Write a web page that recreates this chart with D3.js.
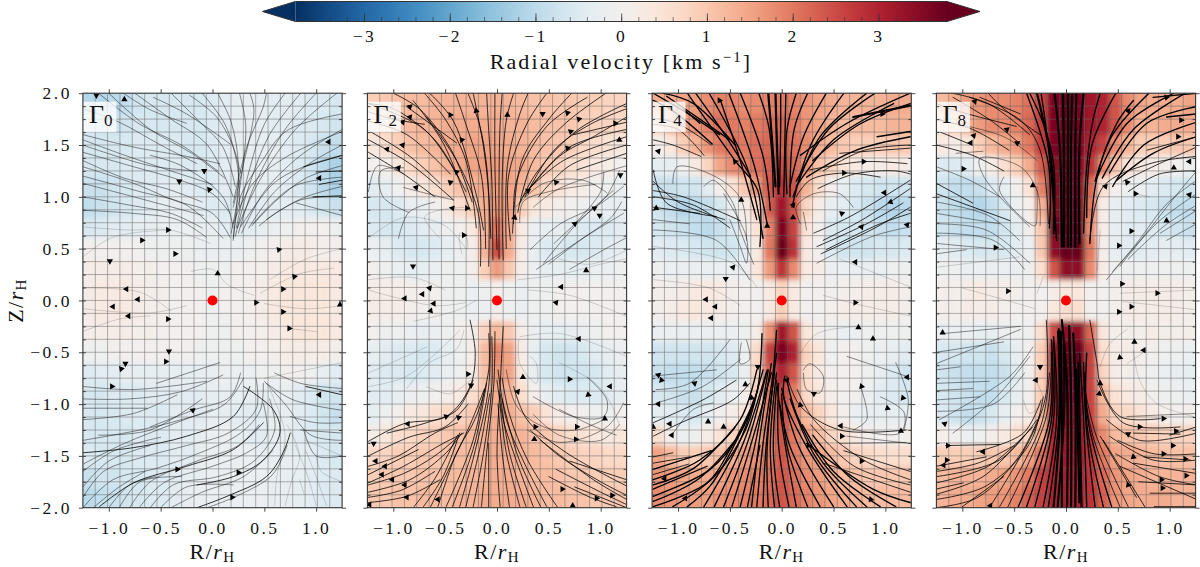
<!DOCTYPE html>
<html>
<head>
<meta charset="utf-8">
<script src="https://cdnjs.cloudflare.com/ajax/libs/d3/7.8.5/d3.min.js"></script>
<style>
  html, body { margin: 0; padding: 0; background: #fff; }
  svg { display: block; }
  text { font-family: "Liberation Serif", serif; fill: #111; }
</style>
</head>
<body>
<div id="chart"></div>
<script>
// radial velocity in tenths of km/s. rows run from Z = 2 down to Z = -2, columns from R = -1.25 to 1.25
const field0 = [
  [-11,-11,-10,-9,-7,-6,-6,-6,-6,-6,-5,-4,-3,-3,-3,-4,-4,-4,-5,-5,-6],
  [-7,-8,-8,-7,-6,-6,-6,-6,-6,-6,-5,-4,-3,-3,-3,-4,-4,-5,-5,-6,-7],
  [-6,-6,-6,-6,-5,-5,-5,-5,-6,-6,-5,-4,-3,-3,-3,-3,-4,-5,-6,-8,-9],
  [-6,-6,-6,-5,-5,-5,-5,-5,-5,-5,-5,-4,-3,-3,-3,-3,-4,-5,-7,-10,-12],
  [-8,-8,-7,-6,-5,-5,-4,-4,-4,-5,-5,-4,-4,-3,-3,-3,-4,-5,-7,-10,-12],
  [-9,-8,-7,-6,-5,-4,-3,-3,-3,-4,-5,-5,-4,-4,-4,-4,-4,-4,-5,-7,-8],
  [-6,-5,-4,-4,-3,-3,-2,-2,-2,-3,-3,-4,-4,-4,-3,-2,-1,0,0,0,-1],
  [0,0,0,0,0,-1,-1,-1,-1,-2,-2,-2,-2,-1,0,1,2,2,2,1,1],
  [2,2,2,2,1,1,0,0,0,-1,-1,-1,0,0,1,2,3,3,3,3,3],
  [2,3,3,3,2,1,1,0,0,0,-1,0,0,1,2,3,4,4,4,4,3],
  [2,3,3,3,2,1,1,0,0,0,-1,0,0,1,2,3,4,4,4,4,3],
  [1,2,2,2,1,1,0,0,0,0,-1,-1,0,0,1,2,3,4,4,4,3],
  [-1,-1,0,0,0,0,0,0,0,-1,-1,-1,-1,0,0,1,2,2,2,2,1],
  [-5,-4,-4,-3,-3,-3,-3,-3,-3,-3,-3,-2,-2,-2,-1,-1,0,0,-1,-3,-4],
  [-6,-6,-5,-5,-5,-4,-4,-4,-4,-4,-3,-3,-3,-3,-3,-3,-3,-4,-5,-7,-7],
  [-6,-6,-6,-5,-5,-5,-5,-4,-4,-4,-3,-3,-4,-4,-4,-3,-3,-4,-5,-7,-8],
  [-6,-6,-6,-6,-5,-5,-5,-4,-4,-3,-2,-2,-3,-4,-4,-3,-3,-4,-5,-6,-6],
  [-5,-6,-6,-6,-5,-5,-5,-4,-4,-3,-2,-2,-2,-2,-3,-3,-3,-3,-4,-5,-6],
  [-8,-7,-7,-6,-6,-5,-5,-4,-3,-3,-2,-2,-2,-2,-2,-3,-3,-3,-4,-5,-5],
  [-10,-9,-8,-7,-6,-5,-5,-4,-3,-2,-2,-2,-2,-2,-2,-3,-3,-3,-4,-5,-5]
]
const field2 = [
  [9,10,11,12,12,13,13,13,13,13,13,13,12,11,11,10,10,9,9,8,8],
  [6,8,10,12,13,13,14,14,14,14,14,13,13,12,11,11,10,9,8,8,7],
  [4,6,9,11,12,13,14,14,15,15,15,14,13,12,11,10,9,7,6,5,4],
  [0,1,4,7,9,11,13,14,15,16,16,15,14,12,10,8,6,5,3,2,0],
  [-4,-3,-1,2,4,6,9,11,13,15,16,15,13,11,7,5,3,2,0,-1,-2],
  [-6,-6,-5,-3,-2,0,3,6,9,14,17,15,9,4,3,1,0,-1,-2,-3,-3],
  [-5,-6,-6,-5,-4,-3,-1,0,3,13,21,14,3,-2,-3,-3,-4,-5,-5,-5,-4],
  [-2,-3,-5,-6,-6,-5,-3,-2,1,13,25,14,2,-3,-5,-5,-6,-6,-5,-4,-3],
  [0,-1,-2,-3,-3,-2,-1,-1,1,9,16,10,1,-2,-3,-3,-3,-3,-2,-2,-1],
  [2,2,2,1,0,0,-1,-1,-2,-1,1,-1,-2,-1,-1,0,0,0,0,0,0],
  [2,2,2,1,0,0,-1,-1,-2,-2,1,-1,-2,-1,-1,0,0,0,0,0,0],
  [0,-1,-1,-2,-3,-2,-1,0,1,8,12,10,1,-2,-3,-3,-3,-2,-1,0,0],
  [-3,-4,-5,-5,-6,-5,-3,-1,1,12,18,15,2,-3,-6,-7,-7,-6,-4,-3,-2],
  [-4,-5,-5,-6,-5,-4,-2,-1,2,11,16,15,3,-3,-6,-7,-7,-7,-6,-4,-3],
  [-4,-4,-3,-2,-1,0,1,3,6,10,14,13,6,1,-3,-4,-5,-5,-5,-4,-3],
  [-3,-1,1,3,4,6,7,8,10,12,14,14,11,9,5,2,1,0,-1,-1,0],
  [2,4,6,7,8,9,10,11,12,13,14,14,13,11,10,8,6,5,4,3,4],
  [7,8,9,9,10,10,11,12,12,13,14,14,13,12,11,10,9,8,8,7,7],
  [9,10,10,10,11,11,12,12,13,13,14,14,13,12,12,11,10,10,9,9,9],
  [10,10,11,11,12,12,12,13,13,14,14,14,14,13,12,12,11,11,10,10,10]
]
const field4 = [
  [14,14,15,16,18,19,19,18,18,19,20,19,17,15,14,13,13,13,13,14,14],
  [7,12,15,17,19,21,20,19,20,21,22,20,17,15,13,12,12,12,12,13,13],
  [1,4,9,13,17,20,21,20,21,22,23,21,18,14,12,10,9,9,9,10,10],
  [-3,-3,-1,3,8,15,18,19,21,23,25,22,17,11,8,5,3,2,2,3,2],
  [-8,-8,-7,-7,-4,1,5,10,17,24,28,24,13,6,1,-3,-5,-6,-7,-7,-7],
  [-7,-9,-11,-10,-9,-6,-2,2,8,23,32,24,8,2,-3,-4,-6,-8,-10,-11,-10],
  [-6,-7,-8,-9,-10,-8,-6,0,5,19,36,26,5,1,-5,-6,-6,-7,-8,-9,-8],
  [-4,-5,-5,-6,-7,-7,-7,-4,3,20,40,28,3,0,-5,-7,-7,-7,-6,-6,-5],
  [-1,-2,-2,-2,-2,-2,-2,-2,4,16,28,18,3,2,-2,-2,-2,-2,-2,-1,-1],
  [1,1,2,3,3,3,1,0,0,3,8,3,0,0,0,1,1,2,2,2,1],
  [1,2,3,4,3,2,1,0,0,3,9,3,0,0,1,2,2,2,2,2,1],
  [-2,-2,-2,-2,-2,-2,-2,-1,2,17,32,24,4,1,-1,-2,-2,-1,-1,-1,-1],
  [-7,-7,-7,-7,-7,-6,-5,-1,7,26,36,30,8,4,-1,0,0,-1,-2,-3,-4],
  [-8,-9,-9,-9,-8,-7,-6,-2,8,23,30,24,6,3,0,0,0,-1,-3,-5,-7],
  [-6,-7,-8,-8,-6,-4,-2,0,9,20,26,20,7,4,1,0,0,-2,-4,-5,-6],
  [-3,-4,-5,-6,-3,0,2,5,12,20,25,20,12,8,4,1,-2,-3,-3,-3,-3],
  [6,1,-2,-1,2,5,8,11,15,20,24,20,15,12,8,6,3,1,0,0,1],
  [15,12,9,9,10,11,13,16,18,20,24,20,17,15,12,10,8,7,6,6,6],
  [17,16,15,14,14,15,17,18,19,21,24,21,18,16,14,12,11,10,10,10,10],
  [18,17,16,16,16,17,18,19,20,22,24,22,19,17,15,14,13,12,12,12,12]
]
const field8 = [
  [12,14,16,17,18,18,19,21,26,36,38,36,32,30,24,18,15,14,14,14,15],
  [6,9,13,16,18,18,19,22,27,36,38,36,32,30,24,18,13,13,14,14,14],
  [3,2,4,9,12,14,16,20,27,36,38,36,30,26,18,13,9,9,9,10,10],
  [-5,-5,-4,-1,2,6,9,14,23,35,38,36,28,18,10,5,3,2,1,0,-1],
  [-7,-9,-9,-8,-5,-3,0,5,19,35,38,36,22,6,1,-1,-2,-4,-5,-6,-7],
  [-8,-9,-10,-11,-9,-6,-2,1,13,35,38,38,20,2,-3,-4,-5,-6,-8,-9,-9],
  [-7,-8,-9,-9,-9,-7,-4,0,10,38,38,38,18,2,-3,-4,-4,-5,-6,-7,-8],
  [-3,-4,-5,-6,-6,-6,-4,-2,10,34,38,38,20,1,-3,-4,-4,-4,-3,-3,-4],
  [-1,-1,-2,-2,-2,-2,-2,-1,6,24,34,34,18,2,-1,-1,-1,-1,-1,-1,-1],
  [1,1,2,3,2,2,1,0,0,2,4,4,0,0,1,2,2,2,2,2,1],
  [1,1,2,2,2,1,0,0,0,4,6,6,0,0,1,2,2,2,2,2,1],
  [-2,-2,-2,-3,-3,-2,-1,-1,6,25,34,34,22,4,1,1,1,2,1,1,1],
  [-6,-6,-7,-7,-8,-6,-3,0,9,32,38,38,26,6,2,2,1,0,-1,-1,-2],
  [-7,-8,-9,-9,-9,-8,-4,0,9,30,38,38,26,8,2,1,0,-1,-2,-3,-3],
  [-6,-7,-8,-9,-9,-6,-3,0,9,30,36,36,26,12,5,3,2,0,-1,-1,-2],
  [-5,-7,-9,-8,-6,-3,0,2,12,30,34,34,26,14,8,7,5,3,1,0,1],
  [1,0,-2,-1,1,3,6,8,14,30,33,33,28,18,12,11,10,9,8,8,8],
  [9,9,9,9,10,10,12,15,21,30,32,32,28,20,15,14,13,12,11,11,11],
  [12,13,13,13,14,15,17,20,26,30,31,31,28,22,17,15,14,13,13,13,13],
  [13,14,14,15,16,17,19,23,26,30,31,30,28,23,17,15,14,14,14,13,13]
]

// streamlines: [speed class, R, Z, R, Z, ...], R and Z in hundredths of r_H
const lines0 = [
  [2,-86,200,-60,184,-25,171],[2,-57,196,-25,180,17,151],[2,-22,198,4,177,20,148,27,123],
  [2,-125,160,-76,148,-25,139,7,132],[2,-125,143,-76,129,-31,116,0,103,17,84],[2,-125,129,-76,113,-38,97,0,84,17,61],
  [2,-125,113,-76,100,-9,82],[2,-125,87,-76,84,-34,78,-6,61],[1,-125,71,-82,68,-41,68,-2,55],[1,-125,42,-96,61,-44,68],
  [2,-125,150,-60,130,-15,125],[2,-110,200,-70,170,-30,150,5,125],[2,-60,140,-30,130,10,100,20,70],
  [2,-125,185,-90,172,-50,150,-15,132],[2,-100,200,-60,165,-20,142,12,118],[2,-125,120,-70,105,-25,92,10,60],[2,-125,100,-80,92,-40,84,-10,70],
  [2,-125,155,-90,142,-40,125,0,112],[2,-40,200,-15,175,10,148,22,110],[2,-10,200,12,170,24,130,26,90],[2,5,200,18,172,25,130,20,60],
  [2,-125,135,-85,118,-45,108,-10,95],[2,-75,200,-40,175,-5,150,20,100],
  [2,20,58,27,100,46,132,72,164,125,180],[2,20,74,39,113,72,139,125,163],[2,27,71,59,113,88,129,125,140],
  [2,39,74,78,110,125,119],[2,52,78,85,97,125,100],[2,36,200,40,184,30,132,20,90],[2,52,200,49,187,33,148,20,94],
  [2,70,200,50,170,34,120,23,70],[2,100,200,70,165,40,110,25,65],[3,88,129,125,140],[3,103,112,125,116],[3,97,100,125,101],[2,81,94,125,82],
  [2,26,200,32,170,28,120,18,65],[2,85,200,55,160,35,110,22,62],[2,120,200,80,165,45,115,24,70],[2,125,165,85,140,50,105,28,65],
  [2,125,150,95,133,60,105,35,70],[2,125,130,90,118,60,95,38,72],[2,125,110,90,100,62,85,45,72],[3,125,125,100,124],
  [1,46,7,85,26,117,31],[1,55,20,90,40,125,50],[1,50,-3,90,-8,125,-5],[1,-125,12,-70,8,-40,-10],[1,-125,-8,-60,-12,-25,-5],
  [1,-20,28,0,30,15,15,40,5],[1,-125,-30,-90,-18,-60,-15],[1,72,-27,100,-30],
  [3,-125,-147,-76,-142,-25,-131,20,-112,36,-83],[2,-60,-122,-19,-106,17,-93,27,-70],[2,-125,-115,-76,-109,-34,-91],
  [2,-125,-104,-63,-104],[2,-125,-83,-76,-86,-6,-78],[2,-54,-80,7,-60],[2,-110,-130,-60,-125,-10,-95],
  [2,-125,-200,-96,-173,-54,-162,-12,-147,27,-128,46,-106,49,-80],[3,-109,-199,-76,-176,-25,-160,20,-144,49,-118],
  [2,-70,-199,-47,-176,0,-160,33,-147,52,-131,49,-99],[3,-15,-178,20,-170,49,-154,65,-128,59,-106,30,-83],
  [3,-15,-200,14,-189,52,-170,68,-147,75,-128],[2,-90,-200,-70,-175,-30,-170],[2,-50,-200,-25,-180,20,-178],[2,-125,-180,-100,-155,-60,-140],
  [2,-125,-165,-95,-145,-50,-132],[2,-125,-158,-85,-138,-40,-120,0,-105],[2,-125,-135,-70,-125,-30,-115,12,-100,30,-75],
  [2,-125,-190,-105,-165,-70,-152,-25,-140,15,-128,42,-105,42,-75],[2,-115,-200,-90,-180,-65,-165],[2,-100,-200,-80,-178,-55,-170],
  [2,-80,-200,-60,-175,-15,-155,25,-140,45,-120],[2,-60,-200,-38,-178,5,-170,40,-155,60,-125,55,-95],[2,-40,-200,-10,-185,30,-170,58,-145],
  [2,-5,-200,25,-188,58,-168,72,-140],[2,-125,-95,-80,-95,-30,-88,10,-72],
  [1,84,-173,88,-186],[1,70,-198,76,-175,84,-150,72,-120],[1,100,-198,92,-170,80,-140],[1,60,-198,62,-170,70,-130,55,-85],[1,110,-198,100,-170,90,-145],
  [2,125,-135,95,-130,70,-100,50,-78],[2,125,-150,100,-150,88,-125],[1,125,-175,105,-165,100,-150],[2,125,-85,85,-80,60,-70],
  [2,52,-80,78,-96,125,-106],[3,90,-83,125,-91],[2,75,-112,100,-118,125,-118],[2,85,-125,125,-128],[1,90,-135,125,-150],[1,50,-75,100,-65,125,-60]
]
const lines2 = [
  [3,-8,33,-8,100,-13,148,-23,200],[3,-4,39,-5,116,-8,164,-10,200],[3,0,49,-2,132,-2,200],[3,6,39,5,116,9,174,16,200],
  [3,13,58,11,119,29,171,48,200],[3,16,74,19,116,48,168,87,196],[3,22,94,38,123,77,164,125,190],[3,25,100,60,139,93,158,125,177],
  [3,29,106,64,135,125,158],[3,74,160,125,172],[3,77,126,125,142],[3,33,110,70,148,125,165],[2,18,90,45,113,83,116,106,104],
  [3,-6,60,-10,130,-17,170,-28,200],[3,-11,50,-15,120,-30,170,-40,200],[3,-20,70,-30,135,-50,175,-70,200],[3,-24,95,-44,145,-75,185,-100,200],
  [3,-30,105,-60,155,-100,185,-124,190],[3,2,40,2,120,3,170,5,200],[3,9,50,10,130,22,180,30,200],[3,15,65,24,135,50,175,72,200],
  [3,20,85,35,135,65,170,105,200],[3,27,100,55,145,90,170,125,185],[3,40,100,70,130,125,150],[2,35,90,60,108,125,130],[2,22,75,25,95,50,105,95,112],
  [3,-16,33,-18,84,-39,135,-68,177],[3,-26,87,-52,152,-81,193],[3,-13,68,-21,106,-42,173,-65,200],[3,-42,97,-84,132,-124,155],
  [3,-55,113,-84,139,-124,164],[3,-45,122,-87,160,-124,173],[3,-87,187,-39,152],[3,-38,120,-70,165,-124,190],[2,-90,109,-55,100,-42,97],
  [3,-60,100,-90,122,-124,143],[3,-70,170,-100,175,-124,182],[2,-85,85,-110,100,-112,125,-90,128],[2,-60,95,-85,85,-95,60],
  [2,-124,105,-115,130,-90,122],[1,-32,90,-60,86,-70,80,-55,60],[1,-34,45,-36,65,-30,63,-28,50],[1,-124,60,-90,80,-50,72,-30,50],[1,-124,20,-80,22,-50,10],
  [2,32,49,61,74,96,91,122,110],[2,45,36,77,74,112,106],[2,38,30,86,62,122,84],[2,75,74,100,105,103,124],[1,20,20,60,25,100,35,124,40],
  [2,50,35,80,58,110,80,120,95],[2,55,55,80,78,105,100,118,125],[2,70,30,105,50,124,60],[1,60,40,90,35,124,48],
  [1,-80,-20,-40,-10,-20,0],[1,-124,10,-60,-5,-30,-2],[1,30,10,70,5,124,-15],
  [3,-8,-199,-8,-138],[3,-23,-199,-13,-147,-5,-83,-5,-35],[3,-36,-199,-20,-141,-8,-83,-7,-19],[3,-49,-199,-24,-138,-12,-86],
  [3,-57,-199,-39,-147,-20,-112,-8,-67,-8,-32],[3,-71,-199,-52,-170,-36,-128],[3,3,-199,0,-147,3,-83,6,-25],[3,22,-199,9,-147,3,-102],
  [3,35,-199,16,-147,6,-115,0,-77],[3,48,-199,25,-154,9,-115,1,-67],[3,-124,-176,-90,-160,-52,-138,-32,-128],[3,-124,-185,-84,-173,-49,-147,-34,-128],
  [3,-15,-199,-10,-147,-3,-80,-2,-30],[3,-30,-199,-16,-140,-7,-90],[3,-43,-199,-22,-140,-10,-80],[3,-64,-199,-45,-160,-26,-120,-12,-85],
  [3,-80,-199,-60,-172,-38,-130],[3,12,-199,5,-147,1,-100],[3,28,-199,12,-147,3,-90],[3,42,-199,20,-150,5,-95],[3,58,-199,30,-155,12,-110,5,-75],
  [3,-124,-190,-92,-183,-60,-165],[3,-124,-160,-95,-150,-60,-128,-38,-118],[3,-124,-150,-85,-132,-50,-122,-28,-100],[3,-124,-178,-90,-167,-60,-150,-38,-132],
  [3,-124,-168,-76,-144],[3,-124,-136,-90,-119,-49,-112,-26,-83,-21,-51,-26,-19],[3,-106,-128,-68,-118,-39,-106,-23,-77],[3,-124,-195,-87,-189,-55,-173],
  [1,-124,-83,-87,-73,-36,-29],[1,-124,-70,-68,-45],[1,-87,-85,-65,-60,-39,-47,-32,-29],[1,-68,-83,-45,-90,-26,-77],
  [2,9,-67,19,-102,45,-122,77,-125,103,-115],[3,16,-83,29,-115,67,-147,125,-179],[3,42,-135,93,-173,125,-192],[3,70,-155,125,-173],[3,57,-163,100,-185,125,-197],
  [3,75,-180,125,-200],[3,50,-170,90,-190,115,-199],[3,32,-125,60,-150,100,-175,125,-188],[2,35,-110,60,-130,100,-135,118,-120],[2,60,-105,90,-120,115,-130],
  [2,29,-125,61,-137,106,-122,122,-99],[2,35,-93,74,-112,103,-112,106,-96,87,-74],[1,21,-38,22,-61,38,-80,38,-61,32,-54],[1,22,-35,61,-32,125,-54],[1,60,-60,95,-80,110,-100,118,-120]
]
const lines4 = [
  [5,-6,110,-10,164,-13,200],[5,-3,103,-5,164,-6,200],[4,-11,87,-18,139,-40,200],[4,-14,74,-27,132,-51,200],[4,5,103,5,164,14,200],
  [4,8,110,21,158,43,200],[4,11,100,37,158,82,200],[4,14,110,50,155,108,190],[4,18,140,63,171,124,200],[4,24,119,72,145,124,158],
  [4,-8,100,-12,165,-22,200],[4,-2,110,-1,165,-1,200],[4,2,100,3,150,4,200],[4,8,100,12,165,25,200],[4,10,90,28,150,60,200],[4,-18,60,-34,130,-70,200],
  [4,-30,120,-55,160,-83,200],[4,-60,160,-90,180,-124,200],[4,-45,150,-85,190,-115,200],[4,14,115,45,165,90,200],[4,30,135,75,170,124,190],
  [3,40,125,80,145,124,150],[3,35,108,70,122,110,125,124,122],[3,-124,170,-100,165,-75,140],
  [5,69,177,124,188],[4,92,158,124,163],[3,56,142,124,147],[3,27,126,79,134,121,132],[3,14,100,27,116,60,123,95,119],
  [4,-21,52,-23,106,-45,135,-91,200],[4,-24,78,-40,135,-59,193],[4,-50,155,-111,197],[4,-67,151,-105,183,-124,193],[3,-68,150,-101,171,-124,176],
  [3,-78,139,-105,150,-124,155],[4,-79,171,-95,185],[2,-105,113,-101,129,-63,119,-39,97,-34,58],[2,-75,110,-66,116,-47,94,-40,68,-27,35],
  [2,-56,103,-34,61,-34,36,-40,52,-50,78],[3,-124,126,-111,94,-63,81],[3,-124,106,-95,100,-40,77],[3,-124,90,-79,84],[2,-124,68,-63,58,-31,20],
  [3,-124,115,-100,95,-55,78],[3,-124,100,-85,92,-50,70],[3,40,58,78,78,124,108],[3,38,45,90,70,124,90],
  [2,-124,78,-89,74],[1,-124,52,-47,36,-24,13],[2,18,74,14,90,31,103,56,103,69,90],[3,31,65,66,81,124,116],[3,34,52,82,74,117,94],[3,43,49,95,74,124,84],
  [2,34,36,88,62,124,71],[2,21,85,24,68],[1,56,40,124,13],[1,-124,20,-70,12,-40,-5],[1,40,5,70,-3,124,-15],
  [4,-13,-199,-14,-141,-5,-51],[4,-24,-199,-18,-138,-8,-67,-5,-29],[4,-29,-199,-21,-131,-10,-61],[4,-40,-199,-24,-131,-13,-67],[4,-56,-199,-30,-128,-14,-67],
  [4,-7,-199,-11,-140,-5,-70],[4,-18,-199,-15,-140,-7,-70],[4,-33,-199,-21,-140],[4,-48,-199,-27,-130,-10,-70],[4,-65,-199,-36,-135,-15,-70],
  [4,-105,-199,-65,-170,-35,-125,-22,-80],[4,7,-199,-3,-140,-3,-80],[4,25,-199,5,-140,0,-90],[4,50,-199,16,-140,0,-85],[4,72,-199,32,-150,8,-95],
  [4,95,-199,50,-165,20,-120],[4,110,-199,65,-170,30,-130],[3,124,-178,70,-160,28,-120],[4,-124,-194,-80,-172,-45,-135],[4,-124,-178,-85,-162,-45,-122],
  [3,-124,-168,-90,-158],[3,60,-145,124,-165],
  [4,-75,-199,-40,-135,-18,-67],[4,-91,-199,-69,-179,-40,-128,-24,-89,-19,-32],[4,-2,-199,-8,-147,-5,-83],[4,14,-199,2,-131,-5,-77],[4,37,-199,8,-141,-2,-99],
  [4,63,-199,24,-141,2,-93,3,-73],[4,82,-199,40,-157,14,-109,5,-77],[4,-124,-199,-72,-176,-50,-144,-26,-96],[4,-124,-189,-69,-163,-40,-128,-27,-96],
  [4,-124,-182,-72,-160],[4,-124,-173,-79,-154,-40,-115,-24,-67],[4,-124,-163,-68,-145],[3,-124,-157,-89,-151],[3,-124,-151,-105,-147],
  [3,-124,-131,-95,-117,-47,-96,-31,-80],[3,-124,-118,-76,-96,-44,-77],[2,-121,-99,-76,-83,-40,-57],[2,-121,-86,-89,-80,-50,-38],[2,-124,-73,-63,-67],
  [2,-106,-130,-85,-105,-66,-99],[2,-34,-38,-31,-57,-40,-61,-39,-41],[3,5,-73,18,-102,56,-125,120,-125],[3,15,-86,31,-115,79,-154,124,-173],
  [4,24,-138,88,-182,124,-195],[3,40,-157,124,-185],[2,56,-138,120,-137],[2,21,-67,27,-61,40,-73,37,-89,24,-86,21,-70],[1,18,-51,34,-32,76,-25],
  [2,63,-54,120,-73],[2,59,-122,114,-128,118,-108,95,-93],[2,76,-83,82,-115,69,-125],[2,63,-131,124,-138],[2,110,-60,122,-95,118,-125]
]
const lines8 = [
  [5,-4,52,-6,148,-11,200],[5,2,52,2,148,2,200],[5,9,52,9,148,10,200],[5,-11,68,-14,132,-28,200],[4,-12,65,-12,132,-22,171,-35,200],[4,-9,58,-17,148,-24,200],
  [5,-2,52,-2,148,-3,200],[5,5,52,5,148,6,200],[5,13,55,13,148,17,200],[4,-16,70,-17,132,-38,200],[4,20,80,25,150,48,200],[4,28,115,45,160,80,200],
  [4,35,118,65,165,115,200],[4,45,110,75,150,126,172],[3,55,115,90,132,126,148],[3,60,105,90,122,126,125],
  [3,-25,160,-60,185,-75,200],[3,-35,160,-75,190,-110,200],[3,-55,145,-90,165,-125,175],[3,-125,150,-90,140,-60,125],
  [2,-125,95,-75,82,-45,58],[2,-125,65,-70,58,-40,30],[2,45,28,75,62,105,100,126,125],[2,60,40,95,72,126,92],
  [4,17,65,20,129,26,174,33,200],[4,23,55,30,119,49,171,65,193],[4,30,119,59,171,104,200],[4,42,123,78,171,126,187],[4,49,116,84,142,126,158],[3,78,145,126,158],
  [4,97,177,126,180],[4,84,196,126,200],[3,23,58,36,110,81,132,126,139],[3,-17,74,-25,145,-44,174,-93,196],[3,-44,151,-73,174,-109,196],[3,-44,180,-83,196],
  [3,-48,168,-109,184,-125,190],[3,-93,151,-125,164],[2,-28,135,-60,158,-125,174],[2,-80,144,-106,142],[2,-25,72,-27,103,-44,129,-83,137,-79,119,-35,71],
  [2,-60,119,-64,106,-30,72,-28,85,-28,110],[2,-125,129,-93,116,-64,100],[3,-125,113,-90,94],[3,-125,103,-54,77],[2,-125,84,-64,74],[2,-125,74,-77,68,-35,36],
  [2,-125,55,-60,49],[2,-125,45,-96,49],[1,-125,32,-45,42],[1,-22,23,-28,7],[2,39,20,68,55,97,93,126,116],[2,52,33,87,74,126,103],[2,91,65,126,87],[2,97,58,126,74],
  [1,65,103,81,100],[1,33,68,30,29],[1,52,7,126,10],[1,55,-1,126,-9],[1,-100,12,-50,-2,-30,-8],
  [5,1,-199,1,-83,-4,-19],[5,9,-199,9,-83,7,-32],[5,13,-195,10,-67],[5,-12,-199,-6,-115,-7,-28],[4,-22,-199,-9,-115,-12,-35],[4,-38,-199,-14,-115,-14,-38],
  [5,-4,-199,-4,-115,-5,-30],[5,5,-199,5,-100,3,-25],[5,15,-199,13,-110,12,-60],[5,-8,-199,-2,-110,-2,-40],[4,-17,-199,-7,-115,-8,-30],[4,-30,-199,-12,-115,-12,-40],
  [4,-46,-199,-16,-115,-14,-50],[3,-64,-199,-24,-120,-16,-70],[4,28,-199,19,-115,17,-60],[4,44,-199,22,-120,18,-70],[3,60,-199,29,-130,19,-90],[3,76,-199,36,-135],
  [3,-125,-200,-85,-190,-45,-150,-25,-110],[3,-125,-187,-80,-170,-40,-130],[3,-125,-176,-75,-160,-32,-122],[3,-125,-165,-85,-157,-50,-140],[3,-100,-199,-60,-170],
  [3,70,-175,126,-178],[3,50,-135,85,-148,126,-148],[3,48,-148,90,-170,126,-178],[3,85,-199,126,-199],[3,100,-130,126,-122],[2,-125,-107,-70,-100,-40,-70],[2,-125,-87,-90,-85],[2,-125,-50,-60,-40],
  [3,-56,-199,-19,-112,-14,-51],[3,-72,-197,-32,-128,-19,-89,-19,-19],[4,20,-199,17,-115,13,-51],[4,36,-199,20,-118,20,-51],[3,52,-199,26,-131,17,-83],[3,68,-190,33,-131],
  [3,-125,-192,-77,-179,-35,-138,-22,-93],[3,-125,-182,-99,-176],[3,-125,-170,-64,-154,-28,-115],[3,-125,-160,-77,-151],[3,-116,-140,-64,-139],[3,-86,-146,-41,-128,-24,-96],
  [2,-125,-61,-44,-28],[2,-125,-80,-74,-78],[2,-125,-96,-83,-93],[2,-122,-115,-54,-73,-32,-45],[2,-109,-128,-67,-93,-35,-54],[2,-125,-67,-102,-64],[2,-119,-32,-44,-25],
  [1,-28,-80,-22,-96,-35,-109,-41,-96],[3,23,-19,30,-61,33,-80,52,-112,91,-114],[3,30,-77,55,-118,110,-122],[3,39,-115,71,-135,126,-128],[3,42,-131,84,-154,126,-154],
  [3,65,-157,126,-167],[3,52,-160,126,-192],[3,65,-128,110,-129],[2,59,-112,126,-109],[3,81,-186,126,-186],[3,75,-151,120,-154],[1,33,-64,42,-42,59,-28],
  [1,65,-48,71,-77,87,-99,123,-112],[1,78,-48,59,-61]
]

// arrowheads: [R, Z, heading in degrees], R and Z in hundredths of r_H
const arrows0 = [
  [-112,198,150],[-85,194,-30],[-8,125,150],[-32,115,150],[-3,107,130],[112,153,180],[103,118,180],[-43,68,0],[-68,58,0],[-36,45,0],[64,49,-110],[-99,38,-90],
  [5,26,90],[79,23,10],[68,11,0],[-83,11,180],[-72,1,180],[-96,-6,180],[-81,-15,180],[42,-2,0],[68,-11,0],[123,-4,90],[-43,-18,0],[74,-27,120],[-42,-49,30],
  [-45,-59,0],[-84,-61,30],[-88,-66,10],[-97,-83,0],[103,-91,180],[-19,-106,-80],[-34,-163,0],[25,-166,0],[19,-190,0]
]
const arrows2 = [
  [-84,187,160],[-84,177,170],[-91,172,170],[-45,179,120],[-20,183,100],[10,179,90],[44,180,30],[68,181,15],[79,175,15],[114,171,5],[71,163,20],[118,155,90],
  [-34,155,130],[-91,150,170],[-106,146,170],[68,147,15],[-95,128,170],[-39,124,140],[119,121,-90],[-45,114,140],[-78,109,170],[57,114,10],[30,106,30],[-43,89,170],
  [-29,89,120],[94,89,30],[99,82,30],[17,80,80],[75,74,40],[-32,63,0],[-81,33,150],[86,29,90],[62,13,180],[-65,12,170],[-72,6,180],[-89,2,180],[-61,-3,180],[57,-2,170],
  [-64,-10,190],[-28,-71,0],[-25,-82,30],[-49,-112,20],[-37,-113,20],[-86,-119,180],[-119,-138,-90],[-117,-155,180],[-108,-160,180],[-111,-168,180],[-101,-173,180],
  [-89,-178,180],[-87,-190,180],[-57,-192,60],[-123,-197,180],[25,-74,90],[70,-76,0],[20,-88,170],[88,-91,-20],[109,-83,-60],[104,-114,90],[37,-122,120],[77,-122,0],
  [36,-134,90],[76,-134,0],[63,-182,120],[96,-191,0],[111,-188,0],[73,-198,90],[79,-37,180]
]
const arrows4 = [
  [-60,193,120],[97,180,0],[-119,144,170],[-45,134,130],[79,134,0],[60,123,0],[-39,97,-30],[99,104,60],[11,92,170],[105,95,80],[-121,89,90],[11,80,90],[58,84,140],
  [-14,72,90],[77,71,170],[121,73,170],[-47,32,170],[-54,21,-90],[71,37,180],[-73,1,180],[-64,-6,180],[71,-2,0],[-68,-17,180],[74,-26,90],[88,-37,90],[-23,-64,-90],
  [-119,-72,-80],[-116,-77,-10],[-84,-80,-80],[5,-77,170],[121,-74,-60],[-35,-81,90],[77,-83,-10],[31,-90,-90],[-29,-94,-20],[117,-94,-10],[-119,-100,180],[18,-101,100],
  [102,-104,-20],[-71,-117,90],[-124,-122,90],[-108,-119,-60],[-56,-122,90],[57,-121,-60],[115,-126,90],[-106,-130,-60],[58,-131,0],[26,-140,110],[77,-155,0],
  [-113,-172,180],[-93,-191,180],[86,-192,110]
]
const arrows8 = [
  [-88,192,170],[97,196,10],[60,183,50],[111,174,0],[-57,165,160],[-89,159,170],[108,158,0],[-92,152,180],[-47,152,150],[119,134,180],[104,128,90],[-99,127,120],
  [59,114,10],[38,110,170],[-32,111,-30],[67,103,0],[119,102,170],[97,77,90],[63,67,0],[-68,51,0],[51,53,0],[54,16,0],[-56,9,120],[88,7,0],[63,-6,0],[51,-11,0],
  [-119,-31,90],[66,-40,90],[75,-48,180],[52,-55,100],[-25,-64,-90],[-29,-77,180],[33,-80,-30],[32,-90,-40],[94,-114,0],[-117,-119,-80],[71,-122,0],[60,-129,150],
  [106,-126,0],[-114,-140,0],[103,-140,0],[-80,-146,180],[-115,-154,120],[-118,-159,180],[94,-148,0],[65,-151,-20],[115,-153,0],[116,-169,0],[60,-178,110],[92,-173,0],
  [93,-181,0],[-73,-198,180]
]

const gammaLabels = ['0', '2', '4', '8']
const fields = [field0, field2, field4, field8]
const streamlines = [lines0, lines2, lines4, lines8]
const arrowheads = [arrows0, arrows2, arrows4, arrows8]
const rTicks = [-1, -0.5, 0, 0.5, 1]
const zTicks = [-2, -1.5, -1, -0.5, 0, 0.5, 1, 1.5, 2]
const barTicks = [-3, -2, -1, 0, 1, 2, 3]
const lineWidths = { 1: 0.5, 2: 0.75, 3: 1, 4: 1.35, 5: 2.2 }
const lineAlphas = { 1: 0.32, 2: 0.6, 3: 0.8, 4: 1, 5: 1 }

const width = 1200
const height = 567
const panelW = 259.2
const panelH = 414.5
const panelTop = 93.2
const panelLefts = [82.9, 367.4, 652.1, 936.4]
const edge = '#333'
const fontSize = 17.5
const tickSpacing = '2.5px'

const svg = d3.select('#chart').append('svg').attr('width', width).attr('height', height)
const defs = svg.append('defs')
defs.append('filter').attr('id', 'soft').attr('x', '-5%').attr('y', '-5%').attr('width', '110%').attr('height', '110%')
  .append('feGaussianBlur').attr('stdDeviation', 2.8)

const color = d3.scaleSequential(t => d3.interpolateRdBu(1 - t)).domain([-3.8, 3.8])

// colorbar
const barScale = d3.scaleLinear().domain([-3.8, 3.8]).range([295.4, 947])
const barTop = 1.5
const barBottom = 21.5
const tip = 33
const gradient = defs.append('linearGradient').attr('id', 'bar')
d3.range(0, 1.001, 0.05).forEach(t => {
  gradient.append('stop').attr('offset', t).attr('stop-color', color(-3.8 + 7.6 * t))
})
const bar = svg.append('g')
bar.append('rect')
  .attr('x', barScale(-3.8)).attr('y', barTop)
  .attr('width', barScale(3.8) - barScale(-3.8)).attr('height', barBottom - barTop)
  .attr('fill', 'url(#bar)')
bar.append('path')
  .attr('d', `M${barScale(-3.8)},${barTop}L${barScale(-3.8) - tip},${(barTop + barBottom) / 2}L${barScale(-3.8)},${barBottom}Z`)
  .attr('fill', color(-3.8))
bar.append('path')
  .attr('d', `M${barScale(3.8)},${barTop}L${barScale(3.8) + tip},${(barTop + barBottom) / 2}L${barScale(3.8)},${barBottom}Z`)
  .attr('fill', color(3.8))
bar.append('path')
  .attr('d', `M${barScale(-3.8)},${barTop}L${barScale(-3.8) - tip},${(barTop + barBottom) / 2}L${barScale(-3.8)},${barBottom}L${barScale(3.8)},${barBottom}L${barScale(3.8) + tip},${(barTop + barBottom) / 2}L${barScale(3.8)},${barTop}Z`)
  .attr('fill', 'none').attr('stroke', edge).attr('stroke-width', 1)

const barAxis = bar.append('g').attr('transform', `translate(0,${barBottom})`)
  .call(d3.axisBottom(barScale).tickValues(barTicks).tickSize(-8).tickFormat(d3.format('d')))
barAxis.attr('font-family', null)
barAxis.select('.domain').remove()
barAxis.selectAll('line').attr('stroke', edge).attr('stroke-width', 0.8)
barAxis.selectAll('text').attr('y', 20).attr('dy', 0).attr('font-size', fontSize).attr('fill', '#111')
  .style('letter-spacing', tickSpacing)

const barMinor = bar.append('g').attr('transform', `translate(0,${barBottom})`)
  .call(d3.axisBottom(barScale).tickValues(d3.range(-36, 37, 2).map(d => d / 10)).tickSize(-4.5).tickFormat(''))
barMinor.select('.domain').remove()
barMinor.selectAll('line').attr('stroke', edge).attr('stroke-width', 0.6)

const barTitle = svg.append('text').attr('x', 621).attr('y', 69)
  .attr('text-anchor', 'middle').attr('font-size', 22).style('letter-spacing', '2.1px')
barTitle.append('tspan').text('Radial velocity [km s')
barTitle.append('tspan').attr('dy', -7).attr('font-size', 15).text('−1')
barTitle.append('tspan').attr('dy', 7).text(']')

// one panel per gamma
const x = d3.scaleLinear().domain([-1.25, 1.25]).range([0, panelW])
const y = d3.scaleLinear().domain([-2, 2]).range([panelH, 0])
const stream = d3.line().x(d => x(d[0])).y(d => y(d[1])).curve(d3.curveCatmullRom.alpha(0.5))
const arrow = d3.symbol().type(d3.symbolTriangle).size(17)

const meshR = d3.range(1, 21).map(i => -1.25 + i * 2.5 / 21)
const meshZ = d3.range(-2 + 0.125, 2, 0.125)

gammaLabels.forEach((label, p) => {
  const g = svg.append('g').attr('transform', `translate(${panelLefts[p]},${panelTop})`)
  defs.append('clipPath').attr('id', `clip${p}`).append('rect').attr('width', panelW).attr('height', panelH)
  const inner = g.append('g').attr('clip-path', `url(#clip${p})`)

  // velocity cells, outer ones run past the frame so the soft edge stays hidden
  const nRows = fields[p].length
  const nCols = fields[p][0].length
  const cells = fields[p].flatMap((row, i) => row.map((v, j) => ({ i, j, v })))
  inner.append('g').attr('filter', 'url(#soft)')
    .selectAll('rect').data(cells).join('rect')
    .attr('x', d => x(-1.25 + d.j * 2.5 / nCols) - (d.j === 0 ? 8 : 0))
    .attr('y', d => y(2 - d.i * 4 / nRows) - (d.i === 0 ? 8 : 0))
    .attr('width', d => panelW / nCols + 0.4 + (d.j === 0 || d.j === nCols - 1 ? 8 : 0))
    .attr('height', d => panelH / nRows + 0.4 + (d.i === 0 || d.i === nRows - 1 ? 8 : 0))
    .attr('fill', d => color(d.v / 10))

  // mesh
  const mesh = inner.append('g').attr('stroke', '#666').attr('stroke-opacity', 0.5).attr('stroke-width', 1)
  mesh.selectAll('.mr').data(meshR).join('line').attr('class', 'mr')
    .attr('x1', d => x(d)).attr('x2', d => x(d)).attr('y1', 0).attr('y2', panelH)
  mesh.selectAll('.mz').data(meshZ).join('line').attr('class', 'mz')
    .attr('y1', d => y(d)).attr('y2', d => y(d)).attr('x1', 0).attr('x2', panelW)

  // streamlines
  inner.append('g').attr('fill', 'none').attr('stroke', '#000').attr('stroke-linecap', 'round')
    .selectAll('path').data(streamlines[p]).join('path')
    .attr('stroke-width', d => lineWidths[d[0]])
    .attr('stroke-opacity', d => lineAlphas[d[0]])
    .attr('d', d => stream(d3.range(1, d.length, 2).map(k => [d[k] / 100, d[k + 1] / 100])))

  inner.append('g').selectAll('path').data(arrowheads[p]).join('path')
    .attr('d', arrow)
    .attr('fill', '#000')
    .attr('transform', d => `translate(${x(d[0] / 100)},${y(d[1] / 100)}) rotate(${90 - d[2]})`)

  // gamma tag
  inner.append('rect').attr('x', 0).attr('y', 8.5).attr('width', 33.5).attr('height', 30.5)
    .attr('fill', '#fff').attr('fill-opacity', 0.78)
  const tag = g.append('text').attr('x', 6).attr('y', 30).attr('font-size', 26)
  tag.append('tspan').text('Γ')
  tag.append('tspan').attr('dy', 3).attr('font-size', 17).text(label)

  // planet
  g.append('circle').attr('cx', x(0)).attr('cy', y(0)).attr('r', 5).attr('fill', '#f00')

  // frame and ticks
  g.append('rect').attr('width', panelW).attr('height', panelH)
    .attr('fill', 'none').attr('stroke', edge).attr('stroke-width', 1.1)

  const styleAxis = (sel) => {
    sel.attr('font-family', null)
    sel.select('.domain').remove()
    sel.selectAll('line').attr('stroke', edge).attr('stroke-width', 0.9)
  }
  const bottom = g.append('g').attr('transform', `translate(0,${panelH})`)
    .call(d3.axisBottom(x).tickValues(rTicks).tickSize(4).tickFormat(d3.format('.1f')))
  styleAxis(bottom)
  bottom.selectAll('text').attr('y', 14).attr('dy', '0.71em').attr('font-size', fontSize)
    .attr('fill', '#111').style('letter-spacing', tickSpacing)
  g.append('g').call(d3.axisTop(x).tickValues(rTicks).tickSize(4).tickFormat('')).call(styleAxis)
  const left = g.append('g').call(d3.axisLeft(y).tickValues(zTicks).tickSize(4).tickFormat(p === 0 ? d3.format('.1f') : ''))
  styleAxis(left)
  left.selectAll('text').attr('x', -11).attr('font-size', fontSize).attr('fill', '#111').style('letter-spacing', tickSpacing)
  g.append('g').attr('transform', `translate(${panelW},0)`)
    .call(d3.axisRight(y).tickValues(zTicks).tickSize(4).tickFormat('')).call(styleAxis)
  g.append('g').call(d3.axisRight(y).tickValues(d3.range(-1.875, 2, 0.125)).tickSize(3).tickFormat('')).call(styleAxis)
  g.append('g').attr('transform', `translate(${panelW},0)`)
    .call(d3.axisLeft(y).tickValues(d3.range(-1.875, 2, 0.125)).tickSize(3).tickFormat('')).call(styleAxis)

  // R label
  const rLabel = g.append('text').attr('x', x(0)).attr('y', 466).attr('text-anchor', 'middle').attr('font-size', 22)
    .style('letter-spacing', '1.4px')
  rLabel.append('tspan').text('R/')
  rLabel.append('tspan').attr('font-style', 'italic').text('r')
  rLabel.append('tspan').attr('dy', 3).attr('font-size', 15).text('H')
})

// Z label
const zLabel = svg.append('text').attr('transform', `translate(23,${panelTop + panelH / 2}) rotate(-90)`)
  .attr('text-anchor', 'middle').attr('font-size', 22).style('letter-spacing', '1.4px')
zLabel.append('tspan').text('Z/')
zLabel.append('tspan').attr('font-style', 'italic').text('r')
zLabel.append('tspan').attr('dy', 3).attr('font-size', 15).text('H')
</script>
</body>
</html>
